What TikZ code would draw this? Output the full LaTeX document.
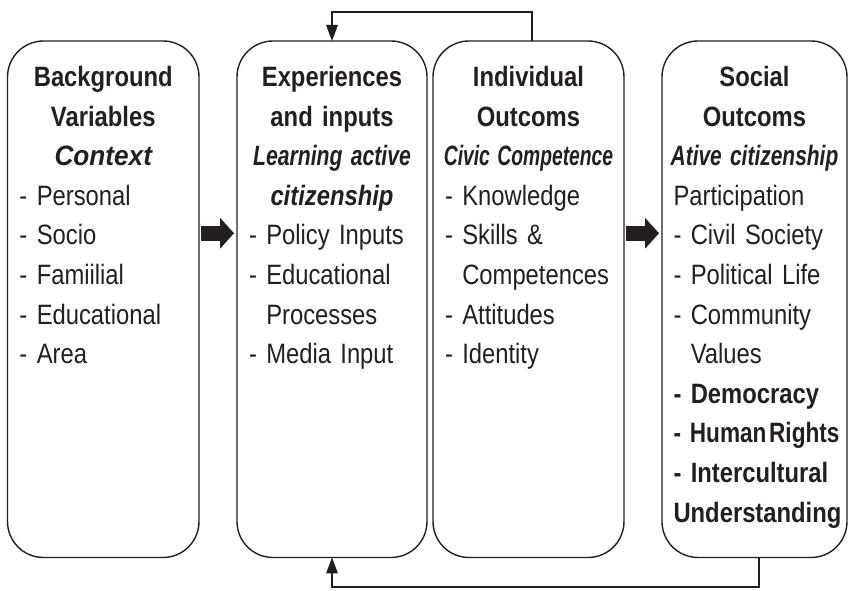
\documentclass[tikz,border=0pt]{standalone}
\usepackage{fontspec}
\setmainfont{Liberation Sans}[FakeStretch=0.85,WordSpace=0.85]
\usepackage{graphicx}
\usetikzlibrary{positioning}
\usetikzlibrary{arrows.meta}
\definecolor{ink}{RGB}{35,31,32}
\tikzset{stage node/.style={draw=ink, line width=1.4pt, rounded corners=36pt, minimum height=516.5pt, inner sep=0pt, outer sep=0pt},
stage text/.style={text=ink, inner sep=0pt, align=left, font=\fontsize{28}{39.6}\selectfont},
fat arrow/.style={draw=ink, line width=15pt, -{Triangle[length=14pt,width=31pt,line width=0pt]}, shorten <=2pt, shorten >=3pt},
loop arrow/.style={draw=ink, line width=1.5pt, -{Triangle[length=16pt,width=12pt,line width=0pt]}},}
\newcommand{\headline}[1]{\leavevmode\hbox to\hsize{\hss\bfseries #1\hss}}
\newcommand{\slanted}[2][0.88]{\leavevmode\hbox to\hsize{\hss\scalebox{#1}[1]{\bfseries\itshape #2}\hss}}
\newcommand{\cont}{\phantom{- }}

\begin{document}
\begin{tikzpicture}
   \useasboundingbox (0,0) rectangle (849pt,591pt);
   \node[stage node, minimum width=191.5pt] (bg) at (103.25pt,291.75pt) {};
   \node[stage node, minimum width=190pt] (exp) [right=38pt of bg] {};
   \node[stage node, minimum width=191pt] (ind) [right=6pt of exp] {};
   \node[stage node, minimum width=185pt] (soc) [right=38pt of ind] {};

   \node[stage text, text width=167.5pt] (bgtext) [below=25pt of bg.north]
     {\headline{Background}\\ \headline{Variables}\\ \slanted[1.1]{Context}\\
      - Personal\\ - Socio\\ - Famiilial\\ - Educational\\ - Area};
   \node[stage text, text width=166pt] (exptext) [below=25pt of exp.north]
     {\headline{Experiences}\\ \headline{and inputs}\\ \slanted[0.89]{Learning active}\\ \slanted[1.0]{citizenship}\\
      - Policy Inputs\\ - Educational\\ \cont Processes\\ - Media Input};
   \node[stage text, text width=167pt] (indtext) [below=25pt of ind.north]
     {\headline{Individual}\\ \headline{Outcoms}\\ \slanted[0.81]{Civic Competence}\\
      - Knowledge\\ - Skills \&\\ \cont Competences\\ - Attitudes\\ - Identity};
   \node[stage text, text width=162pt] (soctext) [below=25pt of soc.north]
     {\headline{Social}\\ \headline{Outcoms}\\ \slanted[0.88]{Ative citizenship}\\
      Participation\\ - Civil Society\\ - Political Life\\ - Community\\ \cont Values\\
      \textbf{- Democracy}\\ \scalebox{0.95}[1]{\bfseries - Human\hspace{0.1em}Rights}\\
      \textbf{- Intercultural}\\ \textbf{Understanding}};

    \draw[fat arrow] ([yshift=66pt]bg.east) -- ([yshift=66pt]exp.west);
    \draw[fat arrow] ([yshift=66pt]ind.east) -- ([yshift=66pt]soc.west);
    \draw[loop arrow] ([xshift=3.5pt]ind.north) -- ++(0,29pt) -| (exp.north);
    \draw[loop arrow] ([xshift=4.5pt]soc.south) -- ++(0,-29.5pt) -| (exp.south);
\end{tikzpicture}
\end{document}
